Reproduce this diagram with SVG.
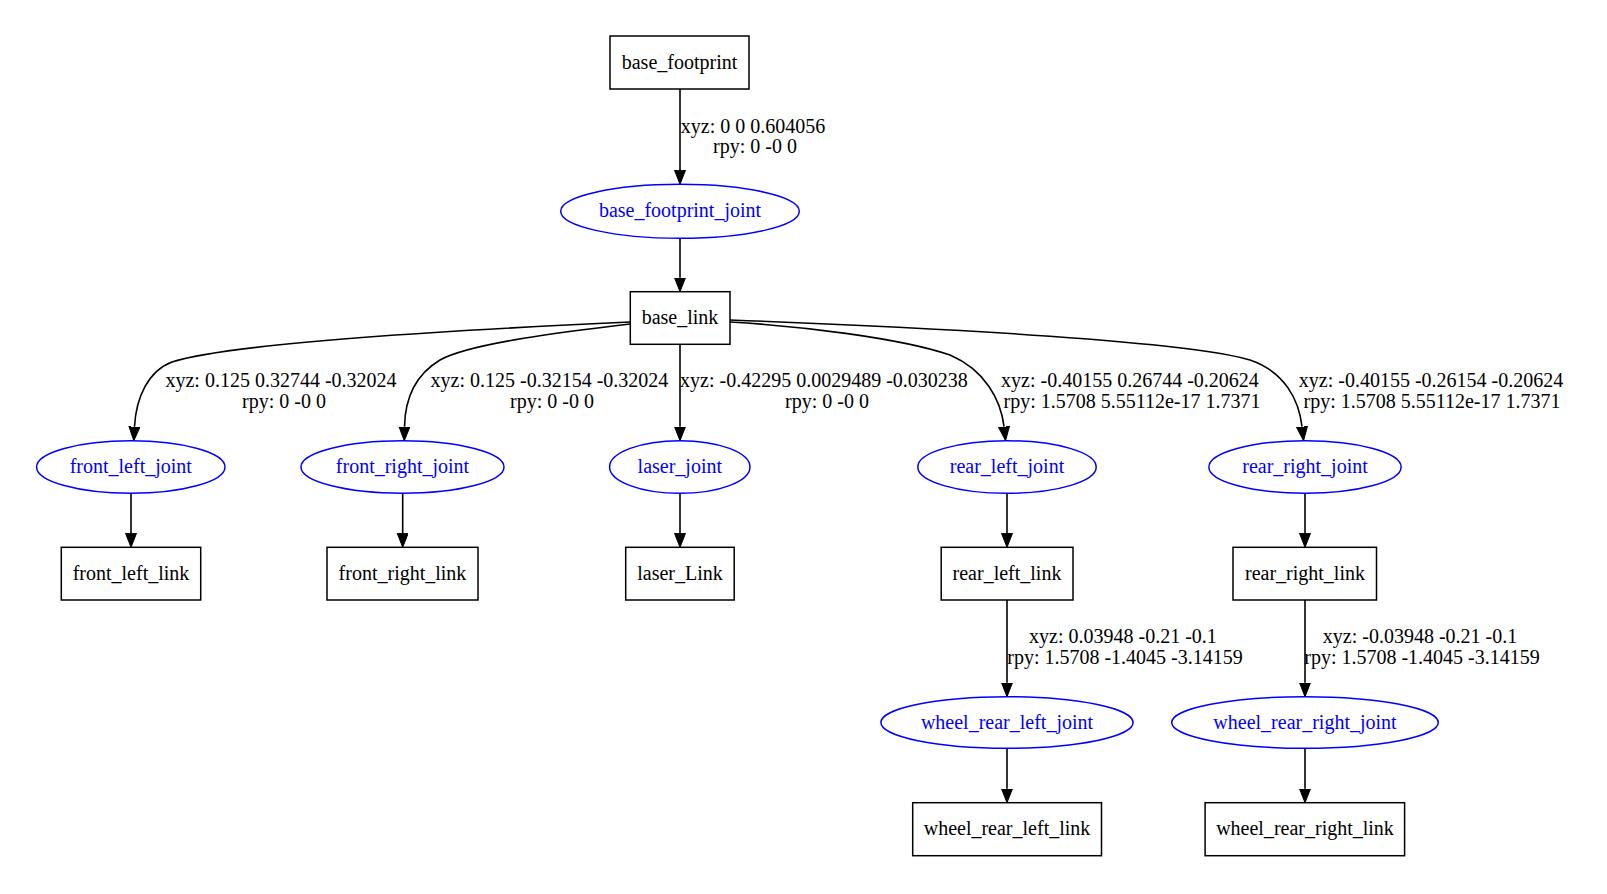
<svg xmlns="http://www.w3.org/2000/svg" width="1607" height="894" viewBox="0 0 1607 894">
<style>
.box{fill:#fff;stroke:#000;stroke-width:1.5}
.ell{fill:#fff;stroke:#0000ff;stroke-width:1.5}
.t{font-family:"Liberation Serif","Times New Roman",serif;font-size:20px;text-anchor:middle;fill:#000}
.tj{font-family:"Liberation Serif","Times New Roman",serif;font-size:20px;text-anchor:middle;fill:#0000ff}
.e{fill:none;stroke:#000;stroke-width:1.6}
.lbl{font-family:"Liberation Serif","Times New Roman",serif;font-size:20px;text-anchor:middle;fill:#000}
</style>
<defs>
<marker id="arr" markerUnits="userSpaceOnUse" markerWidth="15" markerHeight="12" refX="0" refY="5.5" orient="auto">
<path d="M0,0 L14,5.5 L0,11 z" fill="#000" stroke="#000" stroke-width="1"/>
</marker>
</defs>
<rect width="1607" height="894" fill="#fff"/>
<g id="connectors">
<path class="e" d="M680,89 L680,170.3" marker-end="url(#arr)"/>
<path class="e" d="M680,238.3 L680,277.7" marker-end="url(#arr)"/>
<path class="e" d="M630,322 C520,327 240,340 172,362 C148,371 136,398 134.5,426.7" marker-end="url(#arr)"/>
<path class="e" d="M630,324 C570,331 470,343 440,360 C415,375 405,400 404.5,426.7" marker-end="url(#arr)"/>
<path class="e" d="M680,344.3 L680,426.7" marker-end="url(#arr)"/>
<path class="e" d="M730,322 C800,326 900,338 950,355 C985,370 1001,400 1004,426.7" marker-end="url(#arr)"/>
<path class="e" d="M730,320 C950,328 1190,342 1250,360 C1285,372 1299,400 1302,426.7" marker-end="url(#arr)"/>
<path class="e" d="M131,493.3 L131,533.3" marker-end="url(#arr)"/>
<path class="e" d="M402.7,493.3 L402.7,533.3" marker-end="url(#arr)"/>
<path class="e" d="M680,493.3 L680,533.3" marker-end="url(#arr)"/>
<path class="e" d="M1007,493.3 L1007,533.3" marker-end="url(#arr)"/>
<path class="e" d="M1305,493.3 L1305,533.3" marker-end="url(#arr)"/>
<path class="e" d="M1007,600 L1007,682.7" marker-end="url(#arr)"/>
<path class="e" d="M1305,600 L1305,682.7" marker-end="url(#arr)"/>
<path class="e" d="M1007,748.3 L1007,788.7" marker-end="url(#arr)"/>
<path class="e" d="M1305,748.3 L1305,788.7" marker-end="url(#arr)"/>
<text class="lbl" x="753" y="132.7">xyz: 0 0 0.604056</text>
<text class="lbl" x="755" y="153.3">rpy: 0 -0 0</text>
<text class="lbl" x="281" y="387.3">xyz: 0.125 0.32744 -0.32024</text>
<text class="lbl" x="284" y="408.3">rpy: 0 -0 0</text>
<text class="lbl" x="549.5" y="387.3">xyz: 0.125 -0.32154 -0.32024</text>
<text class="lbl" x="552" y="408.3">rpy: 0 -0 0</text>
<text class="lbl" x="824" y="387.3">xyz: -0.42295 0.0029489 -0.030238</text>
<text class="lbl" x="827" y="408.3">rpy: 0 -0 0</text>
<text class="lbl" x="1130" y="387.3">xyz: -0.40155 0.26744 -0.20624</text>
<text class="lbl" x="1132" y="408.3">rpy: 1.5708 5.55112e-17 1.7371</text>
<text class="lbl" x="1431" y="387.3">xyz: -0.40155 -0.26154 -0.20624</text>
<text class="lbl" x="1432" y="408.3">rpy: 1.5708 5.55112e-17 1.7371</text>
<text class="lbl" x="1123" y="643.3">xyz: 0.03948 -0.21 -0.1</text>
<text class="lbl" x="1125" y="664">rpy: 1.5708 -1.4045 -3.14159</text>
<text class="lbl" x="1420" y="643.3">xyz: -0.03948 -0.21 -0.1</text>
<text class="lbl" x="1422" y="664">rpy: 1.5708 -1.4045 -3.14159</text>
</g>
<g id="base_footprint"><rect class="box" x="610" y="36" width="139" height="53"/><text class="t" x="679.5" y="68.5">base_footprint</text></g>
<g id="base_footprint_joint"><ellipse class="ell" cx="680" cy="211.3" rx="119.3" ry="27"/><text class="tj" x="680" y="217.3">base_footprint_joint</text></g>
<g id="base_link"><rect class="box" x="630.3" y="291.7" width="99.7" height="52.6"/><text class="t" x="680" y="324">base_link</text></g>
<g id="front_left_joint"><ellipse class="ell" cx="130.8" cy="467" rx="94.2" ry="26.3"/><text class="tj" x="130.8" y="473">front_left_joint</text></g>
<g id="front_left_link"><rect class="box" x="61.3" y="547.3" width="139.4" height="52.7"/><text class="t" x="131" y="579.7">front_left_link</text></g>
<g id="front_right_joint"><ellipse class="ell" cx="402.5" cy="467" rx="101.5" ry="26.3"/><text class="tj" x="402.5" y="473">front_right_joint</text></g>
<g id="front_right_link"><rect class="box" x="327" y="547.3" width="151" height="52.7"/><text class="t" x="402.5" y="579.7">front_right_link</text></g>
<g id="laser_joint"><ellipse class="ell" cx="679.8" cy="467" rx="70.2" ry="26.3"/><text class="tj" x="679.8" y="473">laser_joint</text></g>
<g id="laser_Link"><rect class="box" x="625.7" y="547.3" width="108.5" height="52.7"/><text class="t" x="680" y="579.7">laser_Link</text></g>
<g id="rear_left_joint"><ellipse class="ell" cx="1007" cy="467" rx="89.2" ry="26.3"/><text class="tj" x="1007" y="473">rear_left_joint</text></g>
<g id="rear_left_link"><rect class="box" x="941.2" y="547.3" width="131.8" height="52.7"/><text class="t" x="1007" y="579.7">rear_left_link</text></g>
<g id="rear_right_joint"><ellipse class="ell" cx="1305" cy="467" rx="96.1" ry="26.3"/><text class="tj" x="1305" y="473">rear_right_joint</text></g>
<g id="rear_right_link"><rect class="box" x="1233" y="547.3" width="143.5" height="52.7"/><text class="t" x="1305" y="579.7">rear_right_link</text></g>
<g id="wheel_rear_left_joint"><ellipse class="ell" cx="1007" cy="722.5" rx="126.1" ry="25.8"/><text class="tj" x="1007" y="728.5">wheel_rear_left_joint</text></g>
<g id="wheel_rear_left_link"><rect class="box" x="912.7" y="802.7" width="188.8" height="53"/><text class="t" x="1007" y="835.2">wheel_rear_left_link</text></g>
<g id="wheel_rear_right_joint"><ellipse class="ell" cx="1305" cy="722.5" rx="133.3" ry="25.8"/><text class="tj" x="1305" y="728.5">wheel_rear_right_joint</text></g>
<g id="wheel_rear_right_link"><rect class="box" x="1205.1" y="802.7" width="199.5" height="53"/><text class="t" x="1305" y="835.2">wheel_rear_right_link</text></g>
</svg>
